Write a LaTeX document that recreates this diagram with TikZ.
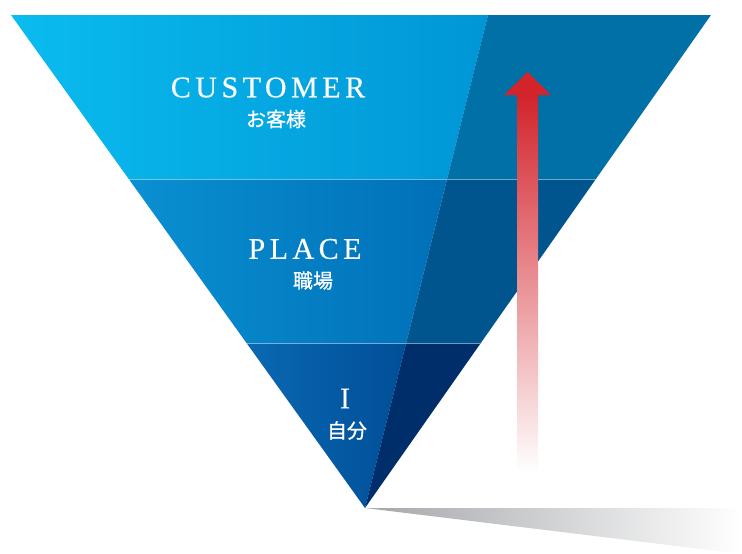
\documentclass[tikz,border=0pt]{standalone}
\usepackage{fontspec}
\usetikzlibrary{calc}
\setmainfont{Liberation Serif}
\newfontfamily\capsfont[LetterSpace=15,FakeBold=0.4]{Liberation Serif}
\newfontfamily\jpfont[FakeBold=0.8]{Noto Sans CJK JP}

\definecolor{topL}{HTML}{0ABCEF}
\definecolor{topR}{HTML}{0096D6}
\definecolor{topD}{HTML}{0070A6}
\definecolor{midL}{HTML}{0A90D2}
\definecolor{midR}{HTML}{0070B8}
\definecolor{midD}{HTML}{00558F}
\definecolor{lowL}{HTML}{0A68B2}
\definecolor{lowR}{HTML}{004E98}
\definecolor{lowD}{HTML}{002E6A}
\definecolor{arrowred}{HTML}{D3232B}
\definecolor{arrowsalmon}{HTML}{E8937A}
\definecolor{shadowgray}{HTML}{A4A6AA}

\tikzset{
  band title/.style={text=white, inner sep=0pt, font=\capsfont\fontsize{30}{32}\selectfont},
  band sub/.style={text=white, inner sep=0pt, font=\jpfont\fontsize{20}{22}\selectfont},
  band edge/.style={white, opacity=0.3, line width=0.8pt}
}

\begin{document}
\begin{tikzpicture}[x=1pt,y=-1pt]
\useasboundingbox (0,0) rectangle (742,554);
% Corners of the upside-down triangle and the split of its dark face
\coordinate (tl) at (11,15);
\coordinate (tr) at (711,15);
\coordinate (tm) at (488,15);
\coordinate (apex) at (365,508);
\coordinate (l1) at ($(tl)!1/3!(apex)$);
\coordinate (l2) at ($(tl)!2/3!(apex)$);
\coordinate (m1) at ($(tm)!1/3!(apex)$);
\coordinate (m2) at ($(tm)!2/3!(apex)$);
\coordinate (r1) at ($(tr)!1/3!(apex)$);
\coordinate (r2) at ($(tr)!2/3!(apex)$);
% Shadow under the apex
\shade[left color=shadowgray, right color=white] (apex) -- (742,508) -- (742,554) -- cycle;
% The three bands, light face and dark face
\shade[left color=topL, right color=topR] (tl) -- (tm) -- (m1) -- (l1) -- cycle;
\fill[topD] (tm) -- (tr) -- (r1) -- (m1) -- cycle;
\shade[left color=midL, right color=midR] (l1) -- (m1) -- (m2) -- (l2) -- cycle;
\fill[midD] (m1) -- (r1) -- (r2) -- (m2) -- cycle;
\shade[left color=lowL, right color=lowR] (l2) -- (m2) -- (apex) -- cycle;
\fill[lowD] (m2) -- (r2) -- (apex) -- cycle;
\draw[band edge] (l1) -- (r1);
\draw[band edge] (l2) -- (r2);
% Upward arrow, fading out towards the bottom
\shade[top color=arrowred, middle color=arrowsalmon, bottom color=white] (517,95) rectangle (538,472);
\fill[arrowred] (504,95) -- (527.5,72) -- (551,95) -- cycle;
% Labels
\node[band title] (customer) at (268,87.5) {CUSTOMER};
\node[band sub] (customerjp) at (276,119) {お客様};
\node[band title] (place) at (305,249) {PLACE};
\node[band sub] (placejp) at (313,280.5) {職場};
\node[band title] (self) at (345,398.5) {I};
\node[band sub] (selfjp) at (347,430.5) {自分};
\end{tikzpicture}
\end{document}
